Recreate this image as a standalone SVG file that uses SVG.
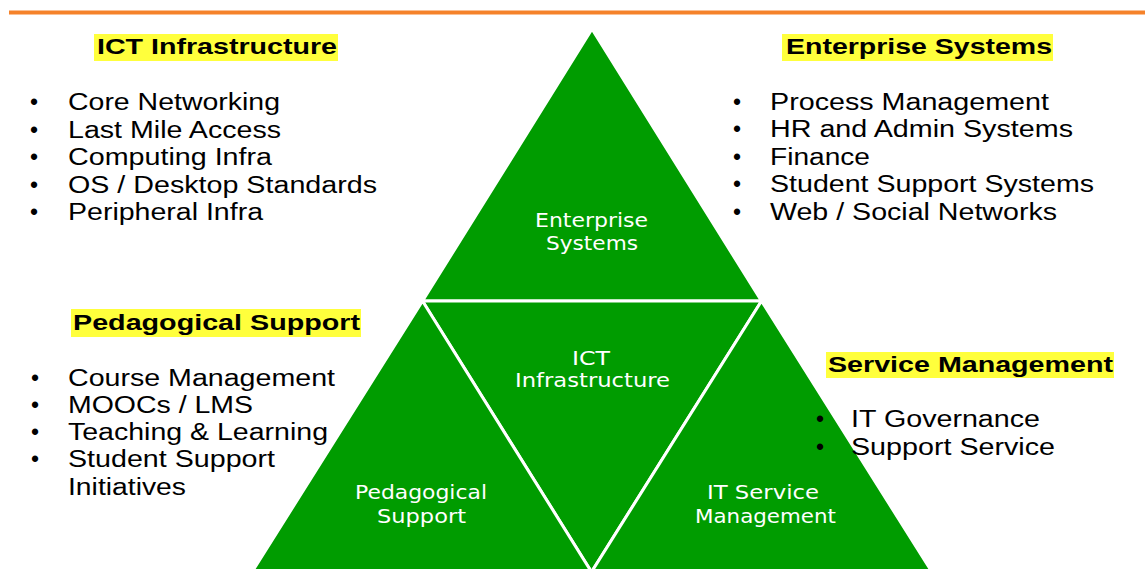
<svg xmlns="http://www.w3.org/2000/svg" width="1145" height="569" viewBox="0 0 1145 569">
<style>
.tri{fill:#009C00;stroke:#fff;stroke-width:3;stroke-linejoin:round}
.lbl{font-family:"DejaVu Sans","Liberation Sans",sans-serif;font-size:19.5px;fill:#fff;text-anchor:start}
.hd{font-family:"Liberation Sans",Arial,sans-serif;font-size:22.5px;font-weight:bold;fill:#000}
.hl{fill:#FFFF3C}
.it{font-family:"Liberation Sans",Arial,sans-serif;font-size:23px;fill:#000}
.bu{font-family:"Liberation Sans",Arial,sans-serif;font-size:23px;fill:#000;text-anchor:middle}
</style>
<rect x="0" y="0" width="1145" height="569" fill="#fff"/>
<rect x="9" y="10.5" width="1136" height="4" fill="#F5822A"/>

<g id="node-enterprise-systems">
<polygon class="tri" points="592,29 422.5,301 761.5,301"/>
<text class="lbl" x="535" y="227" textLength="113" lengthAdjust="spacingAndGlyphs">Enterprise</text>
<text class="lbl" x="546" y="250" textLength="92" lengthAdjust="spacingAndGlyphs">Systems</text>
</g>
<g id="node-ict-infrastructure">
<polygon class="tri" points="422.5,301 761.5,301 591.5,572"/>
<text class="lbl" x="572" y="365" textLength="38" lengthAdjust="spacingAndGlyphs">ICT</text>
<text class="lbl" x="515" y="387" textLength="155" lengthAdjust="spacingAndGlyphs">Infrastructure</text>
</g>
<g id="node-pedagogical-support">
<polygon class="tri" points="422.5,301 591.5,572 252,572"/>
<text class="lbl" x="355" y="499" textLength="132" lengthAdjust="spacingAndGlyphs">Pedagogical</text>
<text class="lbl" x="377" y="523" textLength="89" lengthAdjust="spacingAndGlyphs">Support</text>
</g>
<g id="node-it-service-management">
<polygon class="tri" points="761.5,301 932,572 591.5,572"/>
<text class="lbl" x="707" y="499" textLength="112" lengthAdjust="spacingAndGlyphs">IT Service</text>
<text class="lbl" x="695" y="523" textLength="141" lengthAdjust="spacingAndGlyphs">Management</text>
</g>

<g id="connectors"></g>

<g id="list-ict-infrastructure">
<rect class="hl" x="94" y="34" width="244" height="27"/>
<text class="hd" x="97" y="54" textLength="240" lengthAdjust="spacingAndGlyphs">ICT Infrastructure</text>
<text class="bu" x="34" y="110">•</text>
<text class="it" x="68" y="110" textLength="212" lengthAdjust="spacingAndGlyphs">Core Networking</text>
<text class="bu" x="34" y="137.5">•</text>
<text class="it" x="68" y="137.5" textLength="213" lengthAdjust="spacingAndGlyphs">Last Mile Access</text>
<text class="bu" x="34" y="165">•</text>
<text class="it" x="68" y="165" textLength="204" lengthAdjust="spacingAndGlyphs">Computing Infra</text>
<text class="bu" x="34" y="192.5">•</text>
<text class="it" x="68" y="192.5" textLength="309" lengthAdjust="spacingAndGlyphs">OS / Desktop Standards</text>
<text class="bu" x="34" y="220">•</text>
<text class="it" x="68" y="220" textLength="195" lengthAdjust="spacingAndGlyphs">Peripheral Infra</text>
</g>

<g id="list-enterprise-systems">
<rect class="hl" x="782" y="34" width="271" height="27"/>
<text class="hd" x="786" y="54" textLength="266" lengthAdjust="spacingAndGlyphs">Enterprise Systems</text>
<text class="bu" x="737" y="109.5">•</text>
<text class="it" x="770" y="109.5" textLength="279" lengthAdjust="spacingAndGlyphs">Process Management</text>
<text class="bu" x="737" y="137">•</text>
<text class="it" x="770" y="137" textLength="303" lengthAdjust="spacingAndGlyphs">HR and Admin Systems</text>
<text class="bu" x="737" y="164.5">•</text>
<text class="it" x="770" y="164.5" textLength="100" lengthAdjust="spacingAndGlyphs">Finance</text>
<text class="bu" x="737" y="192">•</text>
<text class="it" x="770" y="192" textLength="324" lengthAdjust="spacingAndGlyphs">Student Support Systems</text>
<text class="bu" x="737" y="219.5">•</text>
<text class="it" x="770" y="219.5" textLength="287" lengthAdjust="spacingAndGlyphs">Web / Social Networks</text>
</g>

<g id="list-pedagogical-support">
<rect class="hl" x="71" y="309" width="290" height="28"/>
<text class="hd" x="73" y="330" textLength="287" lengthAdjust="spacingAndGlyphs">Pedagogical Support</text>
<text class="bu" x="35" y="386">•</text>
<text class="it" x="68" y="386" textLength="267" lengthAdjust="spacingAndGlyphs">Course Management</text>
<text class="bu" x="35" y="413">•</text>
<text class="it" x="68" y="413" textLength="185" lengthAdjust="spacingAndGlyphs">MOOCs / LMS</text>
<text class="bu" x="35" y="440">•</text>
<text class="it" x="68" y="440" textLength="260" lengthAdjust="spacingAndGlyphs">Teaching &amp; Learning</text>
<text class="bu" x="35" y="467">•</text>
<text class="it" x="68" y="467" textLength="207" lengthAdjust="spacingAndGlyphs">Student Support</text>
<text class="it" x="68" y="495" textLength="118" lengthAdjust="spacingAndGlyphs">Initiatives</text>
</g>

<g id="list-service-management">
<rect class="hl" x="826" y="352" width="288" height="26"/>
<text class="hd" x="828" y="372" textLength="285" lengthAdjust="spacingAndGlyphs">Service Management</text>
<text class="bu" x="820" y="427">•</text>
<text class="it" x="851" y="427" textLength="189" lengthAdjust="spacingAndGlyphs">IT Governance</text>
<text class="bu" x="820" y="455">•</text>
<text class="it" x="851" y="455" textLength="204" lengthAdjust="spacingAndGlyphs">Support Service</text>
</g>
</svg>
